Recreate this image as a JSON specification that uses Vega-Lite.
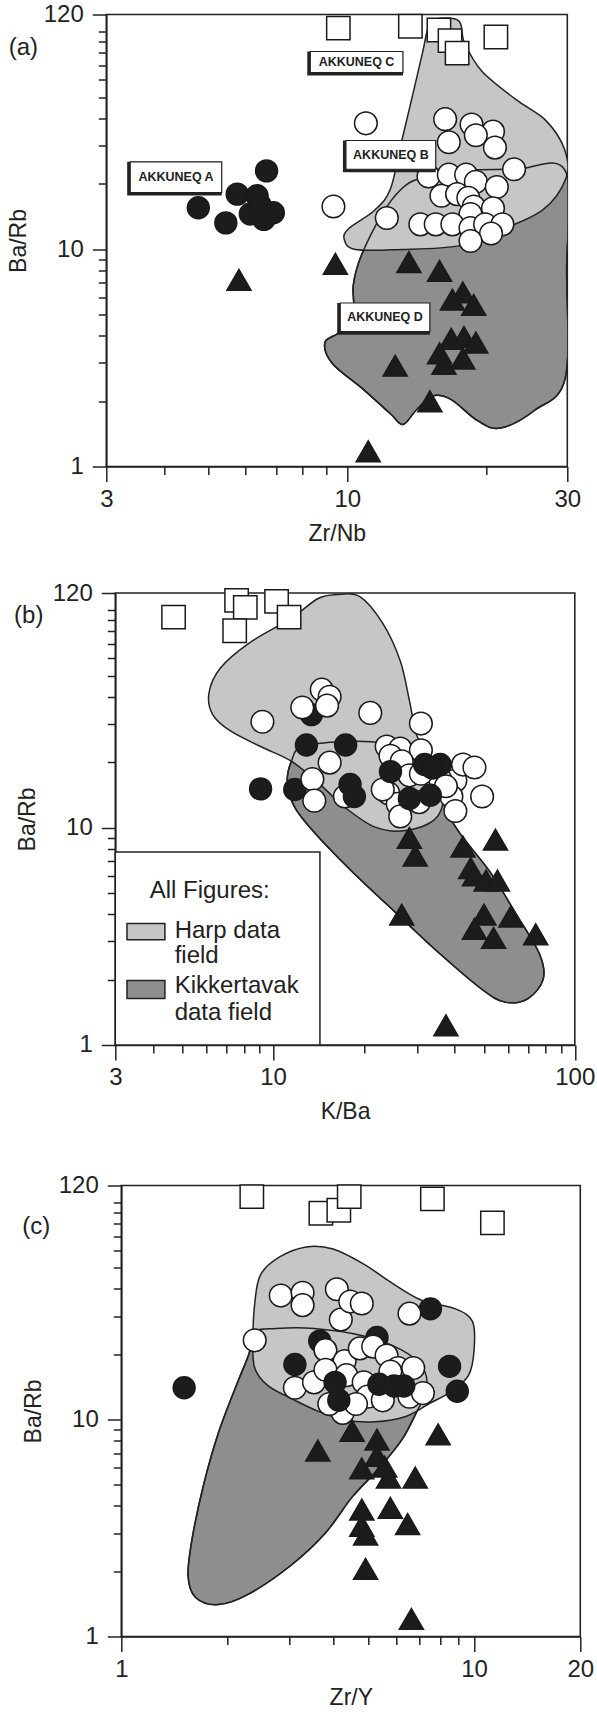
{
"$schema": "https://vega.github.io/schema/vega-lite/v6.json",
"background": "white",
"padding": {"left": 6.3, "top": 1.5, "right": 5, "bottom": 0},
"spacing": 33.5,
"resolve": {"scale": {"x": "independent", "y": "independent"}},
"datasets": {
"ha": [{"i":1,"x":15.55,"y":114.3},{"i":2,"x":17.44,"y":112.1},{"i":3,"x":17.94,"y":89.3},{"i":4,"x":19.56,"y":66.0},{"i":5,"x":23.2,"y":48.8},{"i":6,"x":27.0,"y":38.9},{"i":7,"x":29.6,"y":28.7},{"i":8,"x":29.8,"y":21.2},{"i":9,"x":26.5,"y":15.1},{"i":10,"x":21.1,"y":12.04},{"i":11,"x":17.44,"y":10.35},{"i":12,"x":13.1,"y":9.96},{"i":13,"x":10.4,"y":9.96},{"i":14,"x":9.84,"y":11.15},{"i":15,"x":10.1,"y":12.5},{"i":16,"x":11.46,"y":15.1},{"i":17,"x":12.4,"y":18.9},{"i":18,"x":13.1,"y":31.0},{"i":19,"x":13.9,"y":52.6},{"i":20,"x":14.55,"y":79.7},{"i":21,"x":14.97,"y":103.9}],
"ka": [{"i":1,"x":14.4,"y":21.2},{"i":2,"x":17.44,"y":22.9},{"i":3,"x":23.2,"y":23.3},{"i":4,"x":29.7,"y":22.9},{"i":5,"x":29.9,"y":8.0},{"i":6,"x":29.7,"y":2.55},{"i":7,"x":25.5,"y":1.815},{"i":8,"x":21.5,"y":1.502},{"i":9,"x":19.2,"y":1.62},{"i":10,"x":16.8,"y":2.03},{"i":11,"x":15.3,"y":2.11},{"i":12,"x":14.1,"y":1.815},{"i":13,"x":13.2,"y":1.56},{"i":14,"x":12.4,"y":1.748},{"i":15,"x":10.8,"y":2.277},{"i":16,"x":9.29,"y":2.97},{"i":17,"x":8.94,"y":3.72},{"i":18,"x":9.65,"y":4.17},{"i":19,"x":10.3,"y":5.04},{"i":20,"x":10.3,"y":6.82},{"i":21,"x":10.7,"y":9.24},{"i":22,"x":11.9,"y":14.5},{"i":23,"x":13.1,"y":18.9}],
"pa": [
{"g":"A","x":4.75,"y":15.5},{"g":"A","x":5.45,"y":13.2},{"g":"A","x":5.77,"y":17.9},{"g":"A","x":6.37,"y":17.6},{"g":"A","x":6.68,"y":22.9},{"g":"A","x":6.16,"y":14.5},{"g":"A","x":6.59,"y":13.7},{"g":"A","x":6.91,"y":14.7},{"g":"A","x":6.46,"y":16.0},
{"g":"B","x":10.97,"y":37.9},{"g":"B","x":9.33,"y":15.7},{"g":"B","x":12.18,"y":13.9},{"g":"B","x":16.3,"y":39.6},{"g":"B","x":18.6,"y":37.4},{"g":"B","x":20.7,"y":34.7},{"g":"B","x":16.6,"y":31.0},{"g":"B","x":19.0,"y":33.4},{"g":"B","x":20.9,"y":29.3},{"g":"B","x":23.0,"y":23.3},{"g":"B","x":15.0,"y":21.6},{"g":"B","x":16.6,"y":22.0},{"g":"B","x":18.1,"y":22.0},{"g":"B","x":19.0,"y":20.4},{"g":"B","x":21.1,"y":19.3},{"g":"B","x":16.0,"y":17.6},{"g":"B","x":17.3,"y":17.9},{"g":"B","x":18.3,"y":17.2},{"g":"B","x":18.8,"y":15.7},{"g":"B","x":20.7,"y":15.4},{"g":"B","x":18.5,"y":14.5},{"g":"B","x":14.4,"y":13.0},{"g":"B","x":15.55,"y":13.0},{"g":"B","x":16.9,"y":13.0},{"g":"B","x":18.5,"y":12.5},{"g":"B","x":19.9,"y":13.0},{"g":"B","x":21.7,"y":13.0},{"g":"B","x":20.5,"y":11.8},{"g":"B","x":18.5,"y":10.9},
{"g":"C","x":9.56,"y":103.9},{"g":"C","x":13.7,"y":105.9},{"g":"C","x":15.8,"y":101.9},{"g":"C","x":16.7,"y":91.0},{"g":"C","x":17.3,"y":79.7},{"g":"C","x":21.0,"y":94.5},
{"g":"D","x":5.82,"y":7.22},{"g":"D","x":9.42,"y":8.56},{"g":"D","x":13.6,"y":8.72},{"g":"D","x":15.85,"y":7.94},{"g":"D","x":17.8,"y":6.32},{"g":"D","x":16.9,"y":5.86},{"g":"D","x":18.8,"y":5.54},{"g":"D","x":16.8,"y":3.87},{"g":"D","x":17.9,"y":3.94},{"g":"D","x":19.0,"y":3.72},{"g":"D","x":15.85,"y":3.32},{"g":"D","x":16.2,"y":2.97},{"g":"D","x":17.8,"y":3.14},{"g":"D","x":12.7,"y":2.91},{"g":"D","x":15.1,"y":1.995},{"g":"D","x":11.1,"y":1.175}],
"ba": [{"x":8.31,"x2":13.2,"y":64.9,"y2":81.1},{"x":9.93,"x2":15.55,"y":23.3,"y2":31.6},{"x":3.38,"x2":5.34,"y":18.2,"y2":25.2},{"x":9.65,"x2":15.1,"y":4.17,"y2":5.65}],
"ta": [{"x":10.47,"y":72.6,"t":"AKKUNEQ C"},{"x":12.43,"y":27.1,"t":"AKKUNEQ B"},{"x":4.25,"y":21.4,"t":"AKKUNEQ A"},{"x":12.07,"y":4.85,"t":"AKKUNEQ D"}],
"hb": [{"i":1,"x":16.3,"y":118},{"i":2,"x":19.4,"y":115.4},{"i":3,"x":23.1,"y":86.9},{"i":4,"x":26.4,"y":58.4},{"i":5,"x":28.3,"y":38.5},{"i":6,"x":30.0,"y":26.4},{"i":7,"x":33.7,"y":20.2},{"i":8,"x":36.8,"y":14.96},{"i":9,"x":34.7,"y":11.06},{"i":10,"x":27.5,"y":9.69},{"i":11,"x":21.8,"y":10.05},{"i":12,"x":17.3,"y":12.4},{"i":13,"x":14.1,"y":16.1},{"i":14,"x":11.5,"y":20.2},{"i":15,"x":9.09,"y":23.6},{"i":16,"x":7.2,"y":27.9},{"i":17,"x":6.31,"y":33.1},{"i":18,"x":6.13,"y":41.6},{"i":19,"x":6.69,"y":54.2},{"i":20,"x":8.33,"y":70.6},{"i":21,"x":11.5,"y":91.9},{"i":22,"x":14.1,"y":113.2}],
"kb": [{"i":1,"x":11.5,"y":20.2},{"i":2,"x":12.5,"y":23.6},{"i":3,"x":17.3,"y":24.9},{"i":4,"x":23.1,"y":24.5},{"i":5,"x":30.9,"y":21.8},{"i":6,"x":35.8,"y":17.4},{"i":7,"x":36.8,"y":12.85},{"i":8,"x":41.4,"y":9.5},{"i":9,"x":52.3,"y":6.27},{"i":10,"x":64.1,"y":3.98},{"i":11,"x":76.4,"y":2.62},{"i":12,"x":78.6,"y":2.01},{"i":13,"x":70.0,"y":1.636},{"i":14,"x":58.7,"y":1.575},{"i":15,"x":49.3,"y":1.8},{"i":16,"x":35.8,"y":2.62},{"i":17,"x":25.9,"y":3.98},{"i":18,"x":18.3,"y":6.27},{"i":19,"x":13.7,"y":9.5},{"i":20,"x":11.8,"y":12.4},{"i":21,"x":11.15,"y":16.1}],
"pb": [
{"g":"C","x":4.68,"y":92.9},{"g":"C","x":7.57,"y":111},{"g":"C","x":8.09,"y":103},{"g":"C","x":7.46,"y":80.5},{"g":"C","x":10.27,"y":109.8},{"g":"C","x":11.3,"y":92.9},
{"g":"A","x":9.09,"y":15.07},{"g":"A","x":12.9,"y":24.0},{"g":"A","x":17.4,"y":24.0},{"g":"A","x":13.4,"y":33.1},{"g":"A","x":11.8,"y":14.96},
{"g":"B","x":9.22,"y":30.7},{"g":"B","x":12.5,"y":35.7},{"g":"B","x":14.5,"y":43.1},{"g":"B","x":15.4,"y":40.0},{"g":"B","x":15.1,"y":36.4},{"g":"B","x":21.0,"y":33.7},{"g":"B","x":30.9,"y":30.1},{"g":"B","x":23.8,"y":23.6},{"g":"B","x":26.4,"y":23.1},{"g":"B","x":24.5,"y":21.4},{"g":"B","x":30.9,"y":22.7},{"g":"B","x":15.4,"y":19.9},{"g":"B","x":13.5,"y":16.7},{"g":"B","x":13.7,"y":13.3},{"g":"B","x":17.3,"y":13.9},{"g":"B","x":26.7,"y":20.2},{"g":"B","x":28.3,"y":17.4},{"g":"B","x":40.2,"y":16.45},{"g":"B","x":42.6,"y":19.5},{"g":"B","x":46.5,"y":18.9},{"g":"B","x":39.0,"y":13.9},{"g":"B","x":40.2,"y":11.92},{"g":"B","x":49.3,"y":13.9},{"g":"B","x":24.1,"y":14.4},{"g":"B","x":25.9,"y":12.85},{"g":"B","x":26.4,"y":11.26},{"g":"B","x":30.5,"y":13.1},{"g":"B","x":35.8,"y":16.7},{"g":"B","x":37.4,"y":15.5},{"g":"B","x":30.9,"y":17.7},{"g":"B","x":23.1,"y":14.96},
{"g":"A","x":18.0,"y":15.8},{"g":"A","x":18.6,"y":13.9},{"g":"A","x":24.5,"y":18.1},{"g":"A","x":31.8,"y":19.5},{"g":"A","x":35.8,"y":19.5},{"g":"A","x":33.7,"y":18.8},{"g":"A","x":28.3,"y":13.6},{"g":"A","x":33.2,"y":14.1},
{"g":"D","x":28.3,"y":8.97},{"g":"D","x":29.6,"y":7.43},{"g":"D","x":42.6,"y":8.17},{"g":"D","x":45.2,"y":6.51},{"g":"D","x":46.5,"y":6.03},{"g":"D","x":50.8,"y":5.71},{"g":"D","x":55.4,"y":5.71},{"g":"D","x":26.7,"y":3.98},{"g":"D","x":50.0,"y":3.98},{"g":"D","x":46.5,"y":3.42},{"g":"D","x":53.8,"y":3.11},{"g":"D","x":61.4,"y":3.9},{"g":"D","x":74.2,"y":3.23},{"g":"D","x":54.6,"y":8.81},{"g":"D","x":37.4,"y":1.232}],
"lbox": [{"x":3,"x2":14.3,"y":1,"y2":7.72}],
"swh": [{"x":3.28,"x2":4.38,"y":3.05,"y2":3.62}],
"swk": [{"x":3.28,"x2":4.38,"y":1.636,"y2":1.98}],
"ltxt": [{"x":3.9,"y":5.11,"t":"All Figures:"},{"x":4.72,"y":3.36,"t":"Harp data"},{"x":4.72,"y":2.58,"t":"field"},{"x":4.72,"y":1.87,"t":"Kikkertavak"},{"x":4.72,"y":1.406,"t":"data field"}],
"hc": [{"i":1,"x":2.481,"y":46.5},{"i":2,"x":2.81,"y":56.2},{"i":3,"x":3.347,"y":62.5},{"i":4,"x":3.985,"y":61.1},{"i":5,"x":4.865,"y":52.1},{"i":6,"x":5.79,"y":43.1},{"i":7,"x":7.07,"y":35.6},{"i":8,"x":8.85,"y":32.4},{"i":9,"x":9.9,"y":28.3},{"i":10,"x":10.0,"y":20.9},{"i":11,"x":9.65,"y":16.02},{"i":12,"x":8.63,"y":13.5},{"i":13,"x":7.43,"y":11.8},{"i":14,"x":6.4,"y":10.34},{"i":15,"x":5.24,"y":9.77},{"i":16,"x":4.296,"y":9.96},{"i":17,"x":3.606,"y":10.94},{"i":18,"x":3.105,"y":12.27},{"i":19,"x":2.609,"y":14.29},{"i":20,"x":2.389,"y":17.28},{"i":21,"x":2.361,"y":23.4},{"i":22,"x":2.389,"y":34.3}],
"kc": [{"i":1,"x":2.389,"y":25.3},{"i":2,"x":2.741,"y":26.3},{"i":3,"x":3.517,"y":26.3},{"i":4,"x":4.865,"y":24.3},{"i":5,"x":6.244,"y":20.9},{"i":6,"x":7.16,"y":17.28},{"i":7,"x":7.34,"y":13.75},{"i":8,"x":6.89,"y":10.94},{"i":9,"x":6.244,"y":8.08},{"i":10,"x":5.375,"y":5.96},{"i":11,"x":4.511,"y":4.39},{"i":12,"x":3.79,"y":3.0},{"i":13,"x":3.029,"y":2.13},{"i":14,"x":2.302,"y":1.572},{"i":15,"x":1.886,"y":1.403},{"i":16,"x":1.624,"y":1.514},{"i":17,"x":1.546,"y":1.903},{"i":18,"x":1.585,"y":2.78},{"i":19,"x":1.707,"y":4.93},{"i":20,"x":1.886,"y":8.71},{"i":21,"x":2.136,"y":14.85},{"i":22,"x":2.302,"y":20.1}],
"pc": [
{"g":"C","x":2.344,"y":106.6},{"g":"C","x":3.679,"y":89.4},{"g":"C","x":4.136,"y":92.3},{"g":"C","x":4.426,"y":106.6},{"g":"C","x":7.617,"y":104.1},{"g":"C","x":11.27,"y":80.7},
{"g":"A","x":1.507,"y":14.02},{"g":"A","x":7.522,"y":32.4},{"g":"A","x":8.52,"y":17.6},{"g":"A","x":8.96,"y":13.5},{"g":"A","x":3.105,"y":17.95},{"g":"A","x":3.652,"y":23.0},{"g":"A","x":5.306,"y":23.9},
{"g":"B","x":2.832,"y":37.3},{"g":"B","x":3.265,"y":38.4},{"g":"B","x":3.265,"y":33.7},{"g":"B","x":4.084,"y":39.9},{"g":"B","x":4.19,"y":28.9},{"g":"B","x":4.458,"y":35.0},{"g":"B","x":4.805,"y":34.3},{"g":"B","x":6.56,"y":30.8},{"g":"B","x":2.389,"y":23.2},{"g":"B","x":3.79,"y":20.9},{"g":"B","x":4.296,"y":18.6},{"g":"B","x":4.743,"y":21.3},{"g":"B","x":5.176,"y":21.7},{"g":"B","x":5.649,"y":19.75},{"g":"B","x":6.085,"y":17.28},{"g":"B","x":6.723,"y":17.28},{"g":"B","x":3.105,"y":14.02},{"g":"B","x":3.517,"y":14.85},{"g":"B","x":3.79,"y":16.97},{"g":"B","x":4.346,"y":16.02},{"g":"B","x":4.865,"y":14.85},{"g":"B","x":4.988,"y":12.75},{"g":"B","x":5.51,"y":12.27},{"g":"B","x":6.56,"y":12.75},{"g":"B","x":7.16,"y":13.25},{"g":"B","x":4.242,"y":10.74},{"g":"B","x":4.627,"y":11.8},{"g":"B","x":3.887,"y":11.8},{"g":"B","x":5.79,"y":16.65},
{"g":"A","x":4.035,"y":14.85},{"g":"A","x":4.136,"y":12.27},{"g":"A","x":5.375,"y":14.56},{"g":"A","x":5.935,"y":14.29},{"g":"A","x":6.32,"y":14.29},
{"g":"D","x":3.606,"y":7.2},{"g":"D","x":4.511,"y":8.88},{"g":"D","x":5.306,"y":8.08},{"g":"D","x":5.306,"y":6.8},{"g":"D","x":5.58,"y":6.07},{"g":"D","x":4.805,"y":5.96},{"g":"D","x":5.72,"y":5.41},{"g":"D","x":6.81,"y":5.41},{"g":"D","x":5.79,"y":3.92},{"g":"D","x":4.805,"y":3.85},{"g":"D","x":6.48,"y":3.3},{"g":"D","x":4.805,"y":3.24},{"g":"D","x":4.926,"y":2.95},{"g":"D","x":4.926,"y":2.05},{"g":"D","x":7.91,"y":8.55},{"g":"D","x":6.64,"y":1.205}]
},
"vconcat": [
{
"width": 461, "height": 452,
"encoding": {
"x": {"field":"x","type":"quantitative","scale":{"type":"log","domain":[3,30],"nice":false,"zero":false},"axis":{"title":"Zr/Nb","values":[3,4,5,6,7,8,9,10,20,30],"labelExpr":"indexof([3,10,30], datum.value) >= 0 ? '' + datum.value : ''","tickSize":{"condition":{"test":"indexof([3,10,30], datum.value) < 0","value":8},"value":15}}},
"y": {"field":"y","type":"quantitative","scale":{"type":"log","domain":[1,120],"nice":false,"zero":false},"axis":{"title":"Ba/Rb","values":[1,2,3,4,5,6,7,8,9,10,20,30,40,50,60,70,80,90,100,120],"labelExpr":"indexof([1,10,120], datum.value) >= 0 ? '' + datum.value : ''","tickSize":{"condition":{"test":"indexof([1,10,120], datum.value) < 0","value":8},"value":14}}}
},
"layer": [
{"data":{"name":"ka"},"mark":{"type":"line","interpolate":"cardinal-closed","fill":"#8e8e8e","stroke":"#222","strokeWidth":1.5,"clip":true},"encoding":{"order":{"field":"i","type":"quantitative"}}},
{"data":{"name":"ha"},"mark":{"type":"line","interpolate":"cardinal-closed","fill":"#c6c6c6","stroke":"#222","strokeWidth":1.5,"clip":true},"encoding":{"order":{"field":"i","type":"quantitative"}}},
{"data":{"name":"ka"},"mark":{"type":"line","interpolate":"cardinal-closed","stroke":"#222","strokeWidth":1.5,"clip":true},"encoding":{"order":{"field":"i","type":"quantitative"}}},
{"data":{"name":"pa"},"mark":{"type":"point","filled":true,"stroke":"#1a1a1a","strokeWidth":1.5,"opacity":1},
 "encoding":{"shape":{"field":"g","type":"nominal","scale":{"domain":["A","B","C","D"],"range":["circle","circle","square","triangle-up"]},"legend":null},
 "fill":{"field":"g","type":"nominal","scale":{"domain":["A","B","C","D"],"range":["#1c1c1c","#ffffff","#ffffff","#1c1c1c"]},"legend":null},
 "size":{"field":"g","type":"nominal","scale":{"domain":["A","B","C","D"],"range":[480,580,560,680]},"legend":null}}},
{"data":{"name":"ba"},"mark":{"type":"rect","fill":"#222","xOffset":-3,"yOffset":3},"encoding":{"x2":{"field":"x2"},"y2":{"field":"y2"}}},
{"data":{"name":"ba"},"mark":{"type":"rect","fill":"#ffffff","stroke":"#222","strokeWidth":1.2},"encoding":{"x2":{"field":"x2"},"y2":{"field":"y2"}}},
{"data":{"name":"ta"},"mark":{"type":"text","font":"Liberation Sans","fontSize":12.5,"fontWeight":"bold","fill":"#222","align":"center","baseline":"middle"},"encoding":{"text":{"field":"t"}}},
{"data":{"values":[{"x":1.982,"y":84.2,"t":"(a)"}]},"mark":{"type":"text","font":"Liberation Sans","fontSize":24,"fill":"#222","align":"center","baseline":"middle"},"encoding":{"text":{"field":"t"}}}
]
},
{
"bounds": "flush",
"spacing": 0,
"hconcat": [
{"width": 8.5, "height": 1, "view": {"stroke": null}, "data": {"values": []}, "mark": {"type": "point", "opacity": 0}},
{
"width": 459.5, "height": 452,
"encoding": {
"x": {"field":"x","type":"quantitative","scale":{"type":"log","domain":[3,100],"nice":false,"zero":false},"axis":{"title":"K/Ba","values":[3,4,5,6,7,8,9,10,20,30,40,50,60,70,80,90,100],"labelExpr":"indexof([3,10,100], datum.value) >= 0 ? '' + datum.value : ''","tickSize":{"condition":{"test":"indexof([3,10,100], datum.value) < 0","value":8},"value":15}}},
"y": {"field":"y","type":"quantitative","scale":{"type":"log","domain":[1,120],"nice":false,"zero":false},"axis":{"title":"Ba/Rb","values":[1,2,3,4,5,6,7,8,9,10,20,30,40,50,60,70,80,90,100,120],"labelExpr":"indexof([1,10,120], datum.value) >= 0 ? '' + datum.value : ''","tickSize":{"condition":{"test":"indexof([1,10,120], datum.value) < 0","value":8},"value":14}}}
},
"layer": [
{"data":{"name":"kb"},"mark":{"type":"line","interpolate":"cardinal-closed","fill":"#8e8e8e","stroke":"#222","strokeWidth":1.5,"clip":true},"encoding":{"order":{"field":"i","type":"quantitative"}}},
{"data":{"name":"hb"},"mark":{"type":"line","interpolate":"cardinal-closed","fill":"#c6c6c6","stroke":"#222","strokeWidth":1.5,"clip":true},"encoding":{"order":{"field":"i","type":"quantitative"}}},
{"data":{"name":"kb"},"mark":{"type":"line","interpolate":"cardinal-closed","stroke":"#222","strokeWidth":1.5,"clip":true},"encoding":{"order":{"field":"i","type":"quantitative"}}},
{"data":{"name":"pb"},"mark":{"type":"point","filled":true,"stroke":"#1a1a1a","strokeWidth":1.5,"opacity":1},
 "encoding":{"shape":{"field":"g","type":"nominal","scale":{"domain":["A","B","C","D"],"range":["circle","circle","square","triangle-up"]},"legend":null},
 "fill":{"field":"g","type":"nominal","scale":{"domain":["A","B","C","D"],"range":["#1c1c1c","#ffffff","#ffffff","#1c1c1c"]},"legend":null},
 "size":{"field":"g","type":"nominal","scale":{"domain":["A","B","C","D"],"range":[480,580,560,680]},"legend":null}}},
{"data":{"name":"lbox"},"mark":{"type":"rect","fill":"#ffffff","stroke":"#222","strokeWidth":1.5},"encoding":{"x2":{"field":"x2"},"y2":{"field":"y2"}}},
{"data":{"name":"swh"},"mark":{"type":"rect","fill":"#c6c6c6","stroke":"#222","strokeWidth":1.5},"encoding":{"x2":{"field":"x2"},"y2":{"field":"y2"}}},
{"data":{"name":"swk"},"mark":{"type":"rect","fill":"#8e8e8e","stroke":"#222","strokeWidth":1.5},"encoding":{"x2":{"field":"x2"},"y2":{"field":"y2"}}},
{"data":{"name":"ltxt"},"mark":{"type":"text","font":"Liberation Sans","fontSize":24,"fill":"#222","align":"left","baseline":"middle"},"encoding":{"text":{"field":"t"}}},
{"data":{"values":[{"x":1.55,"y":94.0,"t":"(b)"}]},"mark":{"type":"text","font":"Liberation Sans","fontSize":24,"fill":"#222","align":"center","baseline":"middle"},"encoding":{"text":{"field":"t"}}}
]
}
]
},
{
"bounds": "flush",
"spacing": 0,
"hconcat": [
{"width": 14.5, "height": 1, "view": {"stroke": null}, "data": {"values": []}, "mark": {"type": "point", "opacity": 0}},
{
"width": 459, "height": 451,
"encoding": {
"x": {"field":"x","type":"quantitative","scale":{"type":"log","domain":[1,20],"nice":false,"zero":false},"axis":{"title":"Zr/Y","titlePadding":5,"values":[1,2,3,4,5,6,7,8,9,10,20],"labelExpr":"indexof([1,10,20], datum.value) >= 0 ? '' + datum.value : ''","tickSize":{"condition":{"test":"indexof([1,10,20], datum.value) < 0","value":8},"value":15}}},
"y": {"field":"y","type":"quantitative","scale":{"type":"log","domain":[1,120],"nice":false,"zero":false},"axis":{"title":"Ba/Rb","values":[1,2,3,4,5,6,7,8,9,10,20,30,40,50,60,70,80,90,100,120],"labelExpr":"indexof([1,10,120], datum.value) >= 0 ? '' + datum.value : ''","tickSize":{"condition":{"test":"indexof([1,10,120], datum.value) < 0","value":8},"value":14}}}
},
"layer": [
{"data":{"name":"kc"},"mark":{"type":"line","interpolate":"cardinal-closed","fill":"#8e8e8e","stroke":"#222","strokeWidth":1.5,"clip":true},"encoding":{"order":{"field":"i","type":"quantitative"}}},
{"data":{"name":"hc"},"mark":{"type":"line","interpolate":"cardinal-closed","fill":"#c6c6c6","stroke":"#222","strokeWidth":1.5,"clip":true},"encoding":{"order":{"field":"i","type":"quantitative"}}},
{"data":{"name":"kc"},"mark":{"type":"line","interpolate":"cardinal-closed","stroke":"#222","strokeWidth":1.5,"clip":true},"encoding":{"order":{"field":"i","type":"quantitative"}}},
{"data":{"name":"pc"},"mark":{"type":"point","filled":true,"stroke":"#1a1a1a","strokeWidth":1.5,"opacity":1},
 "encoding":{"shape":{"field":"g","type":"nominal","scale":{"domain":["A","B","C","D"],"range":["circle","circle","square","triangle-up"]},"legend":null},
 "fill":{"field":"g","type":"nominal","scale":{"domain":["A","B","C","D"],"range":["#1c1c1c","#ffffff","#ffffff","#1c1c1c"]},"legend":null},
 "size":{"field":"g","type":"nominal","scale":{"domain":["A","B","C","D"],"range":[480,580,560,680]},"legend":null}}},
{"data":{"values":[{"x":0.574,"y":77.1,"t":"(c)"}]},"mark":{"type":"text","font":"Liberation Sans","fontSize":24,"fill":"#222","align":"center","baseline":"middle"},"encoding":{"text":{"field":"t"}}},
{"data":{"values":[{"x":5,"y":156.5}]},"mark":{"type":"point","opacity":0,"size":1,"strokeWidth":0}}
]
}
]
}
],
"config": {
"view": {"stroke": "#222", "strokeWidth": 1.6},
"axis": {"grid": false, "domainColor": "#222", "domainWidth": 1.6, "tickColor": "#222", "tickWidth": 1.5, "labelFont": "Liberation Sans", "labelFontSize": 24, "labelColor": "#222", "titleFont": "Liberation Sans", "titleFontSize": 23, "titleFontWeight": "normal", "titleColor": "#222", "labelFlush": false, "labelOverlap": false, "labelBound": false},
"axisX": {"labelPadding": 6, "titlePadding": 11},
"axisY": {"labelPadding": 9, "titlePadding": 13},
"text": {"font": "Liberation Sans"}
}
}
